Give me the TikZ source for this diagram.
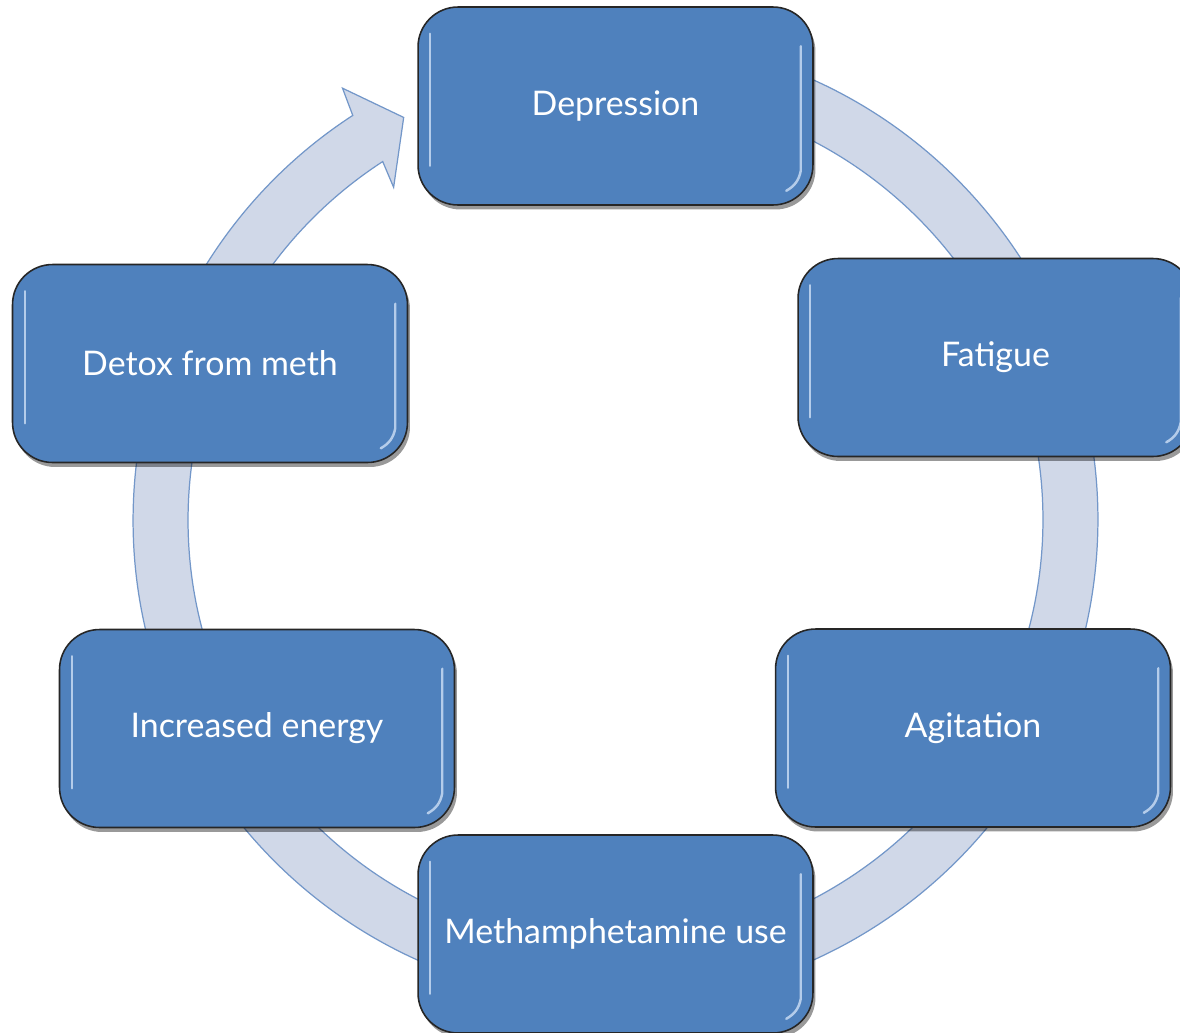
\documentclass[tikz,border=0pt]{standalone}
\usepackage{fontspec}
\setmainfont{Lato}
\usetikzlibrary{shadows}

\definecolor{boxblue}{HTML}{4F81BD}
\definecolor{ringfill}{HTML}{D0D8E8}
\definecolor{ringline}{HTML}{7397C9}
\definecolor{glintcol}{HTML}{D6E6FA}

\begin{document}
\begin{tikzpicture}[x=0.02cm, y=0.02cm,
	stage/.style={draw=black!85, line width=0.9pt, fill=boxblue, rounded corners=0.8cm,
		minimum width=7.9cm, minimum height=3.96cm, text=white,
		font=\fontsize{19.3}{23}\selectfont,
		drop shadow={shadow xshift=0.05cm, shadow yshift=-0.09cm, opacity=0.4, fill=black}},
	ring/.style={fill=ringfill, draw=ringline, line width=0.7pt},
	glint/.style={glintcol, line width=1.4pt, line cap=round, opacity=0.75}]
	\useasboundingbox (0,0) rectangle (1180,-1032);

	\coordinate (c) at (615.5,-520);
	\filldraw[ring] ([shift={(85:9.65cm)}]c) arc[start angle=85, end angle=-237, radius=9.65cm]
		-- ([shift={(-237.7:10.22cm)}]c) -- ([shift={(-242.25:9.1cm)}]c)
		-- ([shift={(-236.3:8.0cm)}]c) -- ([shift={(-237:8.55cm)}]c)
		arc[start angle=-237, end angle=85, radius=8.55cm] -- cycle;

	\node[stage] (dep) at (615.5,-106) {Depression};
	\node[stage] (fat) at (995.5,-357.5) {Fatigue};
	\node[stage] (agi) at (973,-728) {Agitation};
	\node[stage] (meth) at (615.5,-934) {Methamphetamine use};
	\node[stage] (inc) at (257,-728.5) {Increased energy};
	\node[stage] (det) at (210,-363.5) {Detox from meth};

	\foreach \n in {dep,fat,agi,meth,inc,det} {
		\draw[glint] ([xshift=0.26cm,yshift=-0.55cm]\n.north west) -- ([xshift=0.26cm,yshift=0.8cm]\n.south west);
		\draw[glint] ([xshift=-0.26cm,yshift=-0.8cm]\n.north east) -- ([xshift=-0.26cm,yshift=0.7cm]\n.south east)
			to[bend left=25] ([xshift=-0.55cm,yshift=0.3cm]\n.south east);
	}
\end{tikzpicture}
\end{document}
